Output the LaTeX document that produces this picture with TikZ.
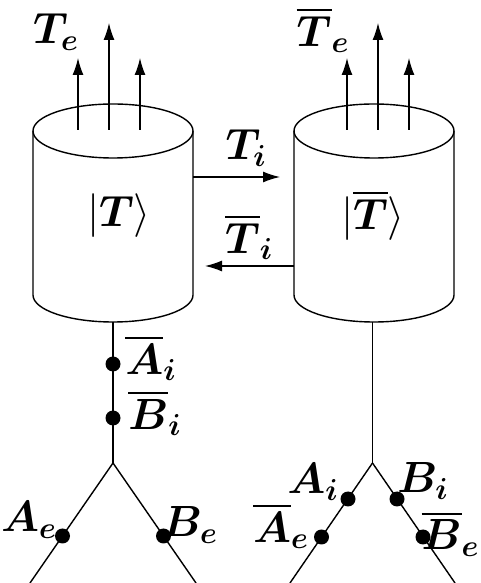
\documentclass[tikz,border=0pt]{standalone}
\usepackage{amsmath,amssymb}
\usepackage{bm}
\usepackage{tikz}
\usetikzlibrary{positioning}
\usetikzlibrary{arrows.meta}
\newcommand{\bvar}[1]{\boldsymbol{#1}}
\tikzset{
  vtx/.style={circle,fill,inner sep=0pt,minimum size=0.3cm},
  lbl/.style={font=\fontsize{26}{30}\selectfont,inner sep=0pt},
}

\begin{document}
\begin{tikzpicture}[>={Latex[length=0.34cm,width=0.22cm]},line width=0.8pt]
  \useasboundingbox (0,0) rectangle (9.62,11.66);
  % tanks
  \foreach \x in {2.26,7.48}{
    \draw (\x-1.6,9.04) -- (\x-1.6,5.76)
      arc[start angle=180,end angle=360,x radius=1.6,y radius=0.54] -- (\x+1.6,9.04);
    \draw (\x,9.04) ellipse[x radius=1.6,y radius=0.54];
  }
  \node[lbl] (kT) at (2.38,7.34) {$|\bvar{T}\rangle$};
  \node[lbl] (kTb) at (7.46,7.36) {$|\overline{\bvar{T}}\rangle$};
  % external outputs
  \foreach \x/\y [count=\k] in {1.56/10.5,2.18/11.2,2.80/10.5,6.94/10.5,7.56/11.2,8.18/10.5}{
    \coordinate (out\k) at (\x,9.06);
    \coordinate (tip\k) at (\x,\y);
    \draw[->] (out\k) -- (tip\k);
  }
  \node[lbl] (Te) at (1.12,11.02) {$\bvar{T}_{\bvar{e}}$};
  \node[lbl] (Teb) at (6.46,11.06) {$\overline{\bvar{T}}_{\bvar{e}}$};
  % internal exchange
  \coordinate (TiS) at (3.86,8.12);
  \coordinate (TiE) at (5.60,8.12);
  \draw[->] (TiS) -- (TiE);
  \node[lbl] (Ti) at (4.92,8.70) {$\bvar{T}_{\bvar{i}}$};
  \coordinate (TibS) at (5.88,6.34);
  \coordinate (TibE) at (4.10,6.34);
  \draw[->] (TibS) -- (TibE);
  \node[lbl] (Tib) at (4.98,6.92) {$\overline{\bvar{T}}_{\bvar{i}}$};
  % left legs
  \coordinate (Lbot) at (2.26,5.22);
  \coordinate (Lfork) at (2.26,2.40);
  \coordinate (Lleft) at (0.60,0);
  \coordinate (Lright) at (3.92,0);
  \draw (Lbot) -- (Lfork);
  \draw (Lfork) -- (Lleft);
  \draw (Lfork) -- (Lright);
  \node[vtx] (Aib) at (2.26,4.38) {};
  \node[vtx] (Bib) at (2.26,3.30) {};
  \node[vtx] (Ae) at (1.25,0.94) {};
  \node[vtx] (Be) at (3.27,0.94) {};
  \node[lbl] (tAib) at (3.02,4.50) {$\overline{\bvar{A}}_{\bvar{i}}$};
  \node[lbl] (tBib) at (3.10,3.40) {$\overline{\bvar{B}}_{\bvar{i}}$};
  \node[lbl] (tAe) at (0.58,1.26) {$\bvar{A}_{\bvar{e}}$};
  \node[lbl] (tBe) at (3.80,1.16) {$\bvar{B}_{\bvar{e}}$};
  % right legs
  \coordinate (Rbot) at (7.45,5.22);
  \coordinate (Rfork) at (7.45,2.40);
  \coordinate (Rleft) at (5.80,0);
  \coordinate (Rright) at (9.10,0);
  \draw (Rbot) -- (Rfork);
  \draw (Rfork) -- (Rleft);
  \draw (Rfork) -- (Rright);
  \node[vtx] (Ai) at (6.96,1.68) {};
  \node[vtx] (Bi) at (7.94,1.68) {};
  \node[vtx] (Aeb) at (6.43,0.92) {};
  \node[vtx] (Beb) at (8.46,0.92) {};
  \node[lbl] (tAi) at (6.26,2.02) {$\bvar{A}_{\bvar{i}}$};
  \node[lbl] (tBi) at (8.46,2.04) {$\bvar{B}_{\bvar{i}}$};
  \node[lbl] (tAeb) at (5.62,1.14) {$\overline{\bvar{A}}_{\bvar{e}}$};
  \node[lbl,anchor=east,font=\fontsize{24}{28}\selectfont] (tBeb) at (9.60,0.98) {$\overline{\bvar{B}}_{\bvar{e}}$};
\end{tikzpicture}
\end{document}
